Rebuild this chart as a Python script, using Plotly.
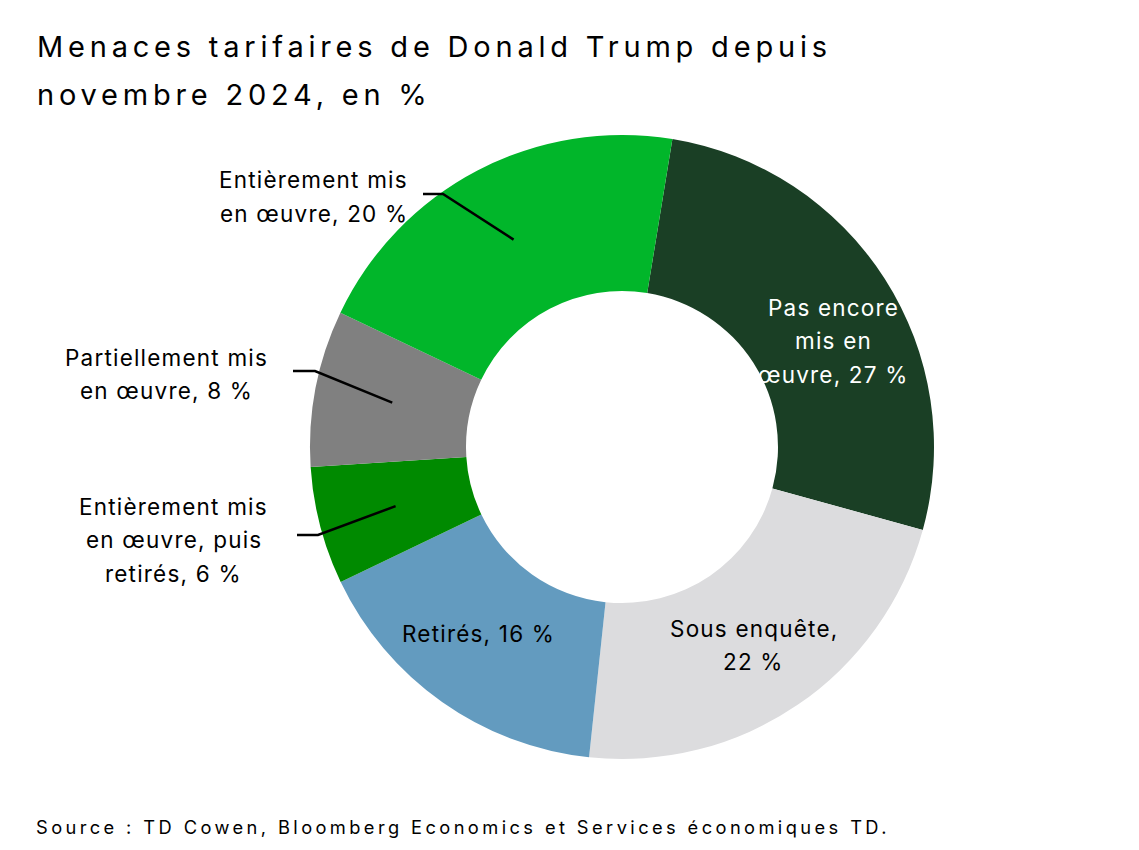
import math
import plotly.graph_objects as go

# ---- data ----
categories = [
    "Pas encore mis en œuvre",
    "Sous enquête",
    "Retirés",
    "Entièrement mis en œuvre, puis retirés",
    "Partiellement mis en œuvre",
    "Entièrement mis en œuvre",
]
values = [26.7, 22.4, 16.2, 6.1, 8.1, 20.5]
label_lines = [
    ["Pas encore", "mis en", "œuvre, 27 %"],
    ["Sous enquête,", "22 %"],
    ["Retirés, 16 %"],
    ["Entièrement mis", "en œuvre, puis", "retirés, 6 %"],
    ["Partiellement mis", "en œuvre, 8 %"],
    ["Entièrement mis", "en œuvre, 20 %"],
]
colors = ["#1a3f25", "#dcdcde", "#639bbf", "#008a00", "#808080", "#01b62a"]
title_lines = ["Menaces tarifaires de Donald Trump depuis", "novembre 2024, en %"]
source_text = "Source : TD Cowen, Bloomberg Economics et Services économiques TD."

# ---- layout geometry (page pixels; page body has an 8px margin) ----
OFF = 8
W, H = 1139 - OFF, 850 - OFF
CXP, CYP, R = 622, 447, 312          # desired centre/radius on the page
ML = CXP - OFF - R
MT = CYP - OFF - R
MR = W - ML - 2 * R
MB = H - MT - 2 * R
PW, PH = 2 * R, 2 * R
CX, CY = CXP, CYP
ROT = 9.3
FONT = "Inter"


def px(x):
    return (x - OFF - ML) / PW


def py(y):
    return (H - MB - (y - OFF)) / PH


def spaced(t, ls):
    return f"<span style='letter-spacing:{ls}px'>{t}</span>"


fig = go.Figure(
    go.Pie(
        labels=categories,
        values=values,
        hole=0.5,
        sort=False,
        direction="clockwise",
        rotation=ROT,
        marker=dict(colors=colors, line=dict(width=0)),
        textinfo="none",
        hoverinfo="label+percent",
        showlegend=False,
    )
)

# mid angles of slices (clockwise from 12 o'clock)
total = sum(values)
mids = []
acc = ROT
for v in values:
    span = v / total * 360
    mids.append(acc + span / 2)
    acc += span


def ring_point(i, frac=0.75):
    a = math.radians(mids[i])
    return CX + R * frac * math.sin(a), CY - R * frac * math.cos(a)


annotations = []
# title
for txt, yy in zip(title_lines, [46, 94]):
    annotations.append(dict(text=spaced(txt, 4.8), x=px(35), y=py(yy), xref="paper", yref="paper",
                            xanchor="left", yanchor="middle", showarrow=False,
                            font=dict(family=FONT, size=29, color="#000")))
annotations.append(dict(text=spaced(source_text, 3.4), x=px(34), y=py(827), xref="paper", yref="paper",
                        xanchor="left", yanchor="middle", showarrow=False,
                        font=dict(family=FONT, size=18.3, color="#000")))

# label placements: centre x, first-line centre y, text colour (page pixels)
LINE_H = 33.5
LS = 1.2
label_pos = {
    0: (833, 307, "#ffffff"),
    1: (753, 628, "#000000"),
    2: (478, 633, "#000000"),
    3: (173, 506, "#000000"),
    4: (166, 357, "#000000"),
    5: (313, 180, "#000000"),
}
for i, (x, y, c) in label_pos.items():
    for k, line in enumerate(label_lines[i]):
        annotations.append(dict(text=spaced(line, LS), x=px(x + LS / 2), y=py(y + k * LINE_H),
                                xref="paper", yref="paper",
                                xanchor="center", yanchor="middle", showarrow=False,
                                font=dict(family=FONT, size=22.5, color=c)))

# leader lines: horizontal tick, elbow, then into slice middle
leaders = {5: (423, 443, 194), 4: (293, 315, 371), 3: (297, 318, 535)}
shapes = []
for i, (x0, x1, y0) in leaders.items():
    ex, ey = ring_point(i)
    path = f"M {px(x0)} {py(y0)} L {px(x1)} {py(y0)} L {px(ex)} {py(ey)}"
    shapes.append(dict(type="path", path=path, xref="paper", yref="paper",
                       line=dict(color="#000", width=2.5)))

fig.update_layout(
    width=W, height=H,
    margin=dict(l=ML, r=MR, t=MT, b=MB),
    paper_bgcolor="#ffffff", plot_bgcolor="#ffffff",
    annotations=annotations, shapes=shapes,
    font=dict(family=FONT),
)
fig.write_html("out.html")
